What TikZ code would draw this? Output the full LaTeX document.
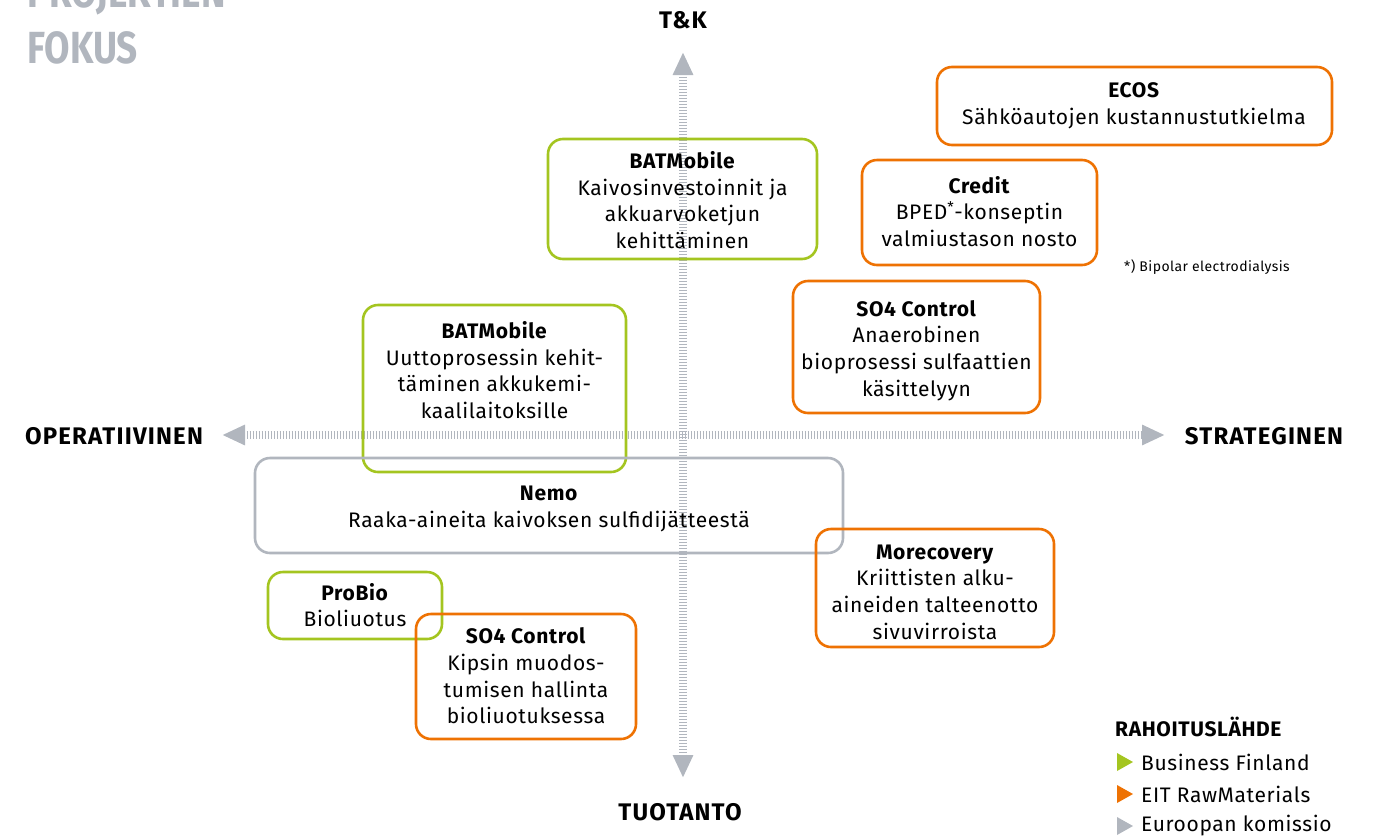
\documentclass[tikz,border=0pt]{standalone}
\usepackage{fontspec}
\setmainfont{Fira Sans}[LetterSpace=3]
\usetikzlibrary{arrows.meta}
\definecolor{lime}{HTML}{A4C520}
\definecolor{orng}{HTML}{EE7203}
\definecolor{gry}{HTML}{B1B6BE}
\tikzset{
  box/.style={draw, line width=2.6pt, rounded corners=15pt, minimum width=#1},
  gbox/.style={box=1pt, draw=lime},
  obox/.style={box=1pt, draw=orng},
  ybox/.style={box=1pt, draw=gry},
  txt/.style={align=center, font=\fontsize{21}{26.7}\selectfont, inner sep=0pt},
  axlab/.style={font=\fontsize{24}{28}\selectfont\bfseries\addfontfeature{LetterSpace=5}},
  axis/.style={gry, line width=8pt, dash pattern=on 1.2pt off 1.8pt,
    {Triangle[length=23pt,width=19pt]}-{Triangle[length=23pt,width=19pt]}},
  ttl/.style={anchor=base west, inner sep=0pt, text=gry, font=\fontsize{45}{50}\selectfont\bfseries\addfontfeature{LetterSpace=0}}
}
\begin{document}
\begin{tikzpicture}[x=1pt,y=-1pt]
\useasboundingbox (0,0) rectangle (1378,836);
% title
\node[ttl] (t1) at (27,7) {\scalebox{0.82}[1]{PROJEKTIEN}};
\node[ttl] (t2) at (27,63) {\scalebox{0.82}[1]{FOKUS}};
% axes
\coordinate (vt) at (683,52);
\coordinate (vb) at (683,778);
\coordinate (hl) at (222,435);
\coordinate (hr) at (1165,435);
\draw[axis] (vt) -- (vb);
\draw[axis] (hl) -- (hr);
\node[axlab] (lk) at (683,20) {T\&K};
\node[axlab] (lt) at (680,812) {TUOTANTO};
\node[axlab] (lo) at (114,436) {OPERATIIVINEN};
\node[axlab] (ls) at (1264,436) {STRATEGINEN};
% boxes
\node[obox, minimum width=395pt, minimum height=78pt] (b1) at (1134.5,106) {};
\node[txt] (x1) at (1134,106) {\textbf{ECOS}\\Sähköautojen kustannustutkielma};
\node[obox, minimum width=235pt, minimum height=105pt] (b2) at (979.5,212.5) {};
\node[txt] (x2) at (979.5,211.5) {\textbf{Credit}\\BPED\textsuperscript{*}-konseptin\\valmiustason nosto};
\node[font=\fontsize{14}{16}\selectfont] (fn) at (1207,267) {*) Bipolar electrodialysis};
\node[obox, minimum width=247pt, minimum height=132pt] (b3) at (916.5,347) {};
\node[txt] (x3) at (916.5,350.5) {\textbf{SO4 Control}\\Anaerobinen\\bioprosessi sulfaattien\\käsittelyyn};
\node[gbox, minimum width=269pt, minimum height=120pt] (b4) at (682.5,199) {};
\node[txt] (x4) at (682.5,200) {\textbf{BATMobile}\\Kaivosinvestoinnit ja\\akkuarvoketjun\\kehittäminen};
\node[gbox, minimum width=263pt, minimum height=167pt] (b5) at (494.5,388.5) {};
\node[txt] (x5) at (494.5,370) {\textbf{BATMobile}\\Uuttoprosessin kehit-\\täminen akkukemi-\\kaalilaitoksille};
\node[ybox, minimum width=588pt, minimum height=95pt] (b6) at (549,505.5) {};
\node[txt] (x6) at (549,509) {\textbf{Nemo}\\Raaka-aineita kaivoksen sulfidijätteestä};
\node[obox, minimum width=238pt, minimum height=118pt] (b7) at (935,588) {};
\node[txt] (x7) at (935,592) {\textbf{Morecovery}\\Kriittisten alku-\\aineiden talteenotto\\sivuvirroista};
\node[gbox, minimum width=174pt, minimum height=67pt] (b8) at (355,605.5) {};
\node[txt] (x8) at (355,605) {\textbf{ProBio}\\Bioliuotus};
\node[obox, minimum width=220pt, minimum height=125pt] (b9) at (526,676.5) {};
\node[txt] (x9) at (526,676) {\textbf{SO4 Control}\\Kipsin muodos-\\tumisen hallinta\\bioliuotuksessa};
% legend
\node[anchor=west, inner sep=0pt, font=\fontsize{21}{24}\selectfont\bfseries] (lh) at (1115,727) {RAHOITUSLÄHDE};
\fill[lime] (1117,753) -- (1133,762) -- (1117,771) -- cycle;
\fill[orng] (1117,785) -- (1133,794) -- (1117,803) -- cycle;
\fill[gry] (1117,817) -- (1133,826) -- (1117,835) -- cycle;
\node[anchor=west, txt] (l1) at (1141,762) {Business Finland};
\node[anchor=west, txt] (l2) at (1141,794) {EIT RawMaterials};
\node[anchor=west, txt] (l3) at (1141,826) {Euroopan komissio};
\end{tikzpicture}
\end{document}
